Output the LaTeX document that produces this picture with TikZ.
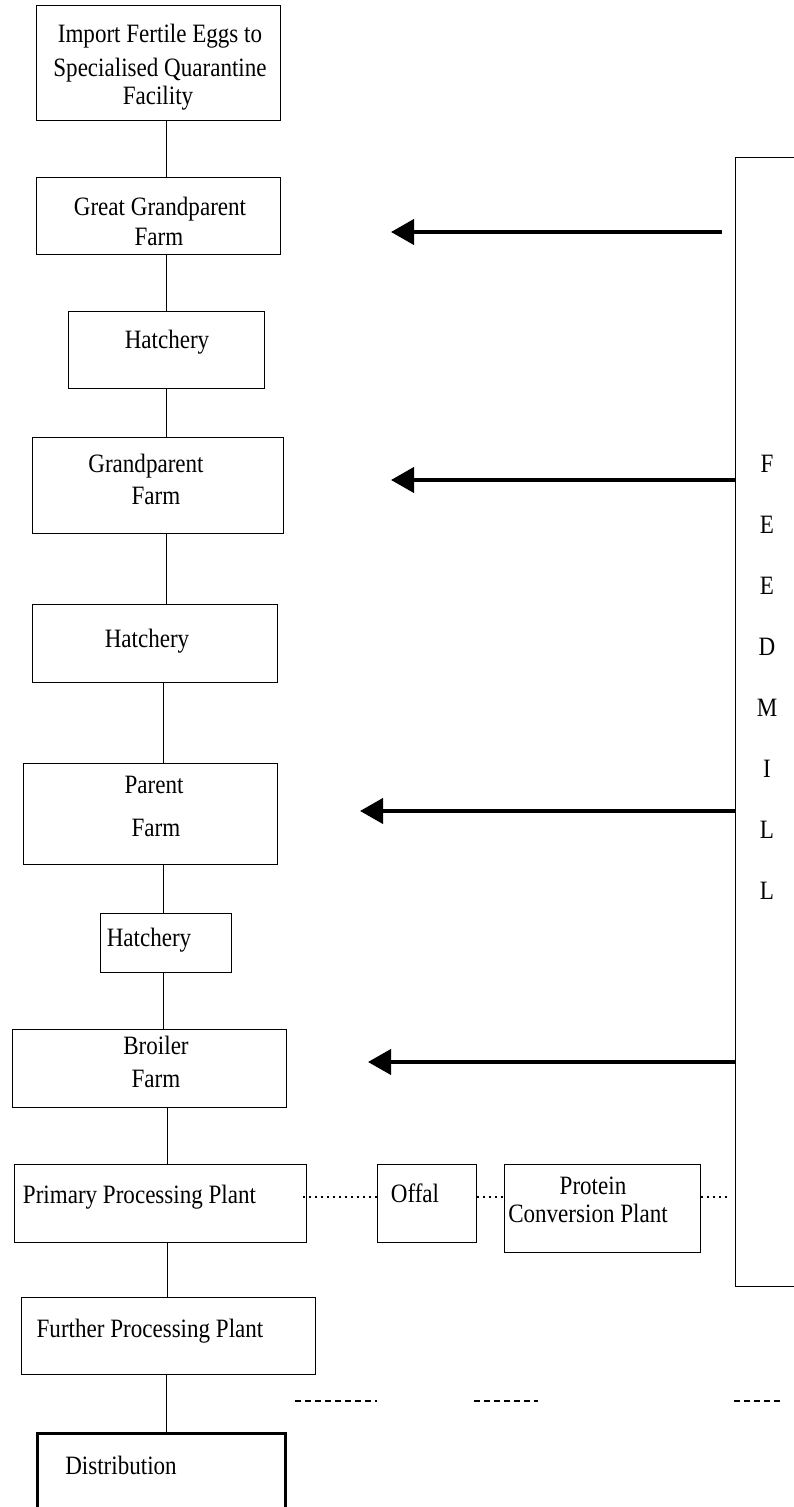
\documentclass[tikz,border=0pt]{standalone}
\usepackage{fontspec}
\setmainfont{Liberation Serif}[FakeStretch=0.87]
\usetikzlibrary{arrows.meta}
\begin{document}
\begin{tikzpicture}[x=1pt,y=-1pt,
  box/.style={draw, line width=1pt, inner sep=0pt, anchor=north west},
  lbl/.style={anchor=base, inner sep=0pt, font=\fontsize{26.5}{30}\selectfont},
  conn/.style={line width=1pt},
  feedarrow/.style={line width=4pt, -{Triangle[length=23pt,width=25pt]}},
  dotline/.style={line width=1.6pt, dash pattern=on 1.6pt off 4.4pt},
  dashline/.style={line width=1.6pt, dash pattern=on 6pt off 4pt}]
\useasboundingbox (0,0) rectangle (793,1507);
% boxes
\node[box, minimum width=244pt, minimum height=115pt] (imp) at (36,5) {};
\node[box, minimum width=244pt, minimum height=77pt] (ggp) at (36,177) {};
\node[box, minimum width=196pt, minimum height=77pt] (hat1) at (68,311) {};
\node[box, minimum width=251pt, minimum height=96pt] (gp) at (32,437) {};
\node[box, minimum width=245pt, minimum height=78pt] (hat2) at (32,604) {};
\node[box, minimum width=254pt, minimum height=101pt] (par) at (23,763) {};
\node[box, minimum width=131pt, minimum height=59pt] (hat3) at (100,913) {};
\node[box, minimum width=274pt, minimum height=78pt] (broil) at (12,1029) {};
\node[box, minimum width=292pt, minimum height=78pt] (prim) at (14,1164) {};
\node[box, minimum width=99pt, minimum height=78pt] (offal) at (377,1164) {};
\node[box, minimum width=196pt, minimum height=88pt] (prot) at (504,1164) {};
\node[box, minimum width=294pt, minimum height=77pt] (furth) at (21,1297) {};
\node[box, line width=3pt, minimum width=248pt, minimum height=130pt] (dist) at (36,1432) {};
\node[box, minimum width=120pt, minimum height=1129pt] (mill) at (735,157) {};
% texts
\node[lbl] (t-imp1) at (160,42) {Import Fertile Eggs to};
\node[lbl] (t-imp2) at (160,76) {Specialised Quarantine};
\node[lbl] (t-imp3) at (158,104) {Facility};
\node[lbl] (t-ggp1) at (160,215) {Great Grandparent};
\node[lbl] (t-ggp2) at (159,245) {Farm};
\node[lbl] (t-hat1) at (167,348) {Hatchery};
\node[lbl] (t-gp1) at (146,472) {Grandparent};
\node[lbl] (t-gp2) at (156,504) {Farm};
\node[lbl] (t-hat2) at (147,647) {Hatchery};
\node[lbl] (t-par1) at (154,793) {Parent};
\node[lbl] (t-par2) at (156,836) {Farm};
\node[lbl] (t-hat3) at (149,946) {Hatchery};
\node[lbl] (t-br1) at (156,1054) {Broiler};
\node[lbl] (t-br2) at (156,1087) {Farm};
\node[lbl] (t-prim) at (139.5,1203) {Primary Processing Plant};
\node[lbl] (t-off) at (415,1202) {Offal};
\node[lbl] (t-prot1) at (593,1194) {Protein};
\node[lbl] (t-prot2) at (588,1222) {Conversion Plant};
\node[lbl] (t-furth) at (150,1337) {Further Processing Plant};
\node[lbl] (t-dist) at (121,1474) {Distribution};
\node[lbl] (m1) at (767,472) {F};
\node[lbl] (m2) at (767,533) {E};
\node[lbl] (m3) at (767,594) {E};
\node[lbl] (m4) at (767,655) {D};
\node[lbl] (m5) at (767,716) {M};
\node[lbl] (m6) at (767,777) {I};
\node[lbl] (m7) at (767,838) {L};
\node[lbl] (m8) at (767,899) {L};
% spine connectors
\coordinate (xa) at (166,0);
\coordinate (xb) at (163,0);
\coordinate (xc) at (167,0);
\draw[conn] (imp.south -| xa) -- (ggp.north -| xa);
\draw[conn] (ggp.south -| xa) -- (hat1.north -| xa);
\draw[conn] (hat1.south -| xa) -- (gp.north -| xa);
\draw[conn] (gp.south -| xa) -- (hat2.north -| xa);
\draw[conn] (hat2.south -| xb) -- (par.north -| xb);
\draw[conn] (par.south -| xb) -- (hat3.north -| xb);
\draw[conn] (hat3.south -| xb) -- (broil.north -| xb);
\draw[conn] (broil.south -| xc) -- (prim.north -| xc);
\draw[conn] (prim.south -| xc) -- (furth.north -| xc);
\draw[conn] (furth.south -| xa) -- (dist.north -| xa);
% feed arrows
\coordinate (s1) at (722,232);
\coordinate (t1) at (391,232);
\coordinate (t2) at (391,480);
\coordinate (t3) at (360,811);
\coordinate (t4) at (368,1062);
\draw[feedarrow] (s1) -- (t1);
\draw[feedarrow] (mill.west |- t2) -- (t2);
\draw[feedarrow] (mill.west |- t3) -- (t3);
\draw[feedarrow] (mill.west |- t4) -- (t4);
% dotted by-product line
\coordinate (dy) at (0,1197);
\draw[dotline] ([xshift=-4pt]prim.east |- dy) -- (offal.west |- dy);
\draw[dotline] (offal.east |- dy) -- (prot.west |- dy);
\draw[dotline] (prot.east |- dy) -- ([xshift=-5pt]mill.west |- dy);
% dashed lines
\coordinate (d1a) at (295,1401);
\coordinate (d1b) at (377,1401);
\coordinate (d2a) at (474,1401);
\coordinate (d2b) at (538,1401);
\coordinate (d3a) at (734,1401);
\coordinate (d3b) at (783,1401);
\draw[dashline] (d1a) -- (d1b);
\draw[dashline] (d2a) -- (d2b);
\draw[dashline] (d3a) -- (d3b);
\end{tikzpicture}
\end{document}
